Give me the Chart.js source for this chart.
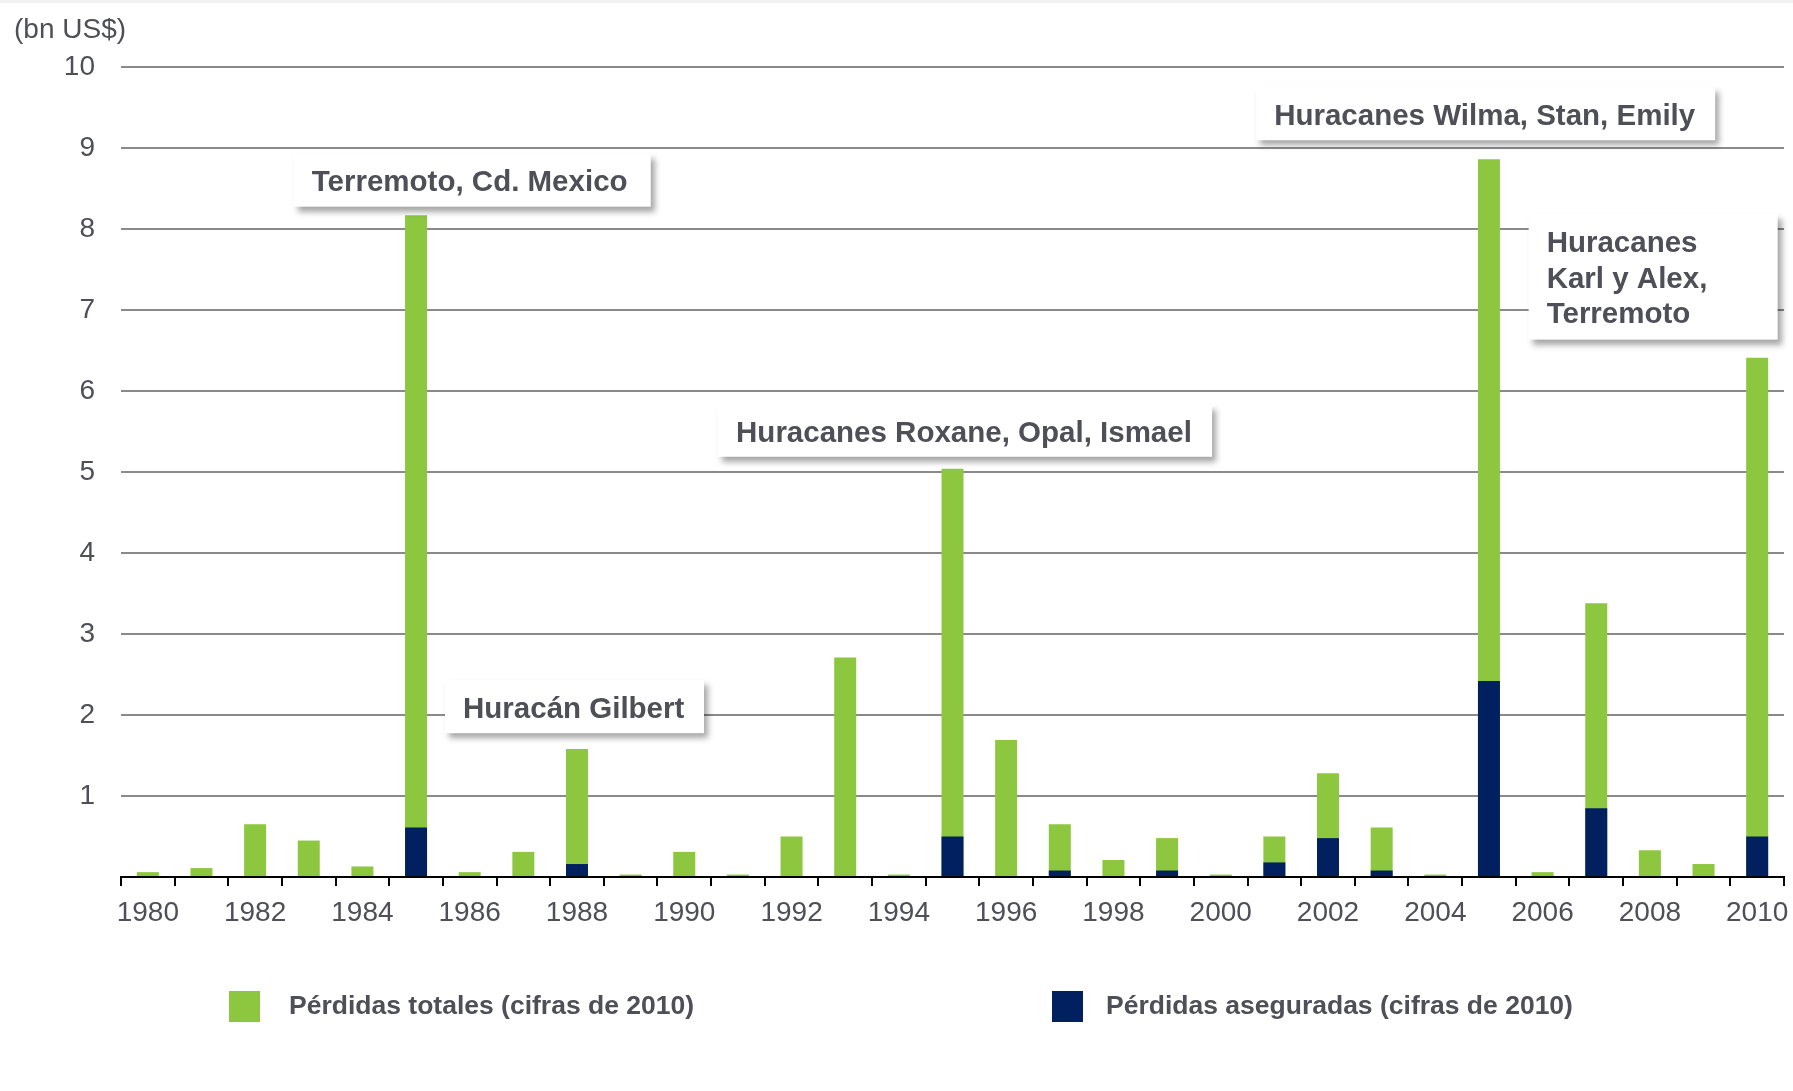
<!DOCTYPE html>
<html>
<head>
<meta charset="utf-8">
<script src="https://cdn.jsdelivr.net/npm/chart.js@4.4.1/dist/chart.umd.min.js"></script>
<style>
html, body { margin: 0; padding: 0; background: #fff; }
</style>
</head>
<body>
<canvas id="lossChart" width="1793" height="1091"></canvas>
<script>
// years on the x axis
let years = []
for (let y = 1980; y <= 2010; ++y) years.push(String(y))

// bn US$
let totalLosses = [0.06, 0.11, 0.65, 0.45, 0.13, 8.17, 0.06, 0.31, 1.58, 0.03,
	0.31, 0.03, 0.50, 2.71, 0.03, 5.04, 1.69, 0.65, 0.21, 0.48,
	0.03, 0.50, 1.28, 0.61, 0.03, 8.86, 0.06, 3.38, 0.33, 0.16, 6.41]
let insuredLosses = [0, 0, 0, 0, 0, 0.61, 0, 0, 0.16, 0,
	0, 0, 0, 0, 0, 0.50, 0, 0.08, 0, 0.08,
	0, 0.18, 0.48, 0.08, 0, 2.42, 0, 0.85, 0, 0, 0.50]

let seriesNames = ["Pérdidas totales (cifras de 2010)", "Pérdidas aseguradas (cifras de 2010)"]
let unitLabel = "(bn US$)"

// callout boxes: left edge as category index, top as axis value
let notes = [
	{lines: ["Terremoto, Cd. Mexico"], at: 2.72, top: 8.93, w: 357, h: 53},
	{lines: ["Huracán Gilbert"], at: 5.54, top: 2.43, w: 259, h: 53},
	{lines: ["Huracanes Roxane, Opal, Ismael"], at: 10.63, top: 5.83, w: 494, h: 52},
	{lines: ["Huracanes Wilma, Stan, Emily"], at: 20.66, top: 9.75, w: 459, h: 53},
	{lines: ["Huracanes", "Karl y Alex,", "Terremoto"], at: 25.74, top: 8.19, w: 249, h: 126},
]

const green = "#8dc63f"
const navy = "#002060"
const textColor = "#4e4f57"
const family = "'Liberation Sans', Arial, sans-serif"

Chart.defaults.font.family = family
Chart.defaults.color = textColor

const extras = {
	id: 'extras',
	beforeDraw(chart) {
		const ctx = chart.ctx
		ctx.save()
		ctx.fillStyle = "#f1f1f1"
		ctx.fillRect(0, 0, chart.width, 3)
		ctx.fillStyle = textColor
		ctx.font = "28px " + family
		ctx.textBaseline = 'middle'
		ctx.fillText(unitLabel, 14, 30)
		ctx.restore()
	},
	afterDatasetsDraw(chart) {
		const ctx = chart.ctx
		const xs = chart.scales.x, ys = chart.scales.y
		ctx.save()
		ctx.font = "bold 29.5px " + family
		ctx.textBaseline = 'middle'
		for (let n of notes) {
			let left = xs.getPixelForValue(n.at)
			let top = ys.getPixelForValue(n.top)
			ctx.save()
			ctx.shadowColor = "rgba(0,0,0,0.35)"
			ctx.shadowBlur = 6
			ctx.shadowOffsetX = 4
			ctx.shadowOffsetY = 5
			ctx.fillStyle = "#fff"
			ctx.fillRect(left, top, n.w, n.h)
			ctx.restore()
			ctx.fillStyle = textColor
			let lh = 35.5
			let y0 = top + n.h / 2 + 3 - (n.lines.length - 1) * lh / 2
			n.lines.forEach((t, i) => ctx.fillText(t, left + 18, y0 + i * lh))
		}
		ctx.restore()
	},
	afterDraw(chart) {
		const ctx = chart.ctx
		ctx.save()
		ctx.font = "bold 26.5px " + family
		ctx.textBaseline = 'middle'
		let boxes = [229, 1052]
		let texts = [289, 1106]
		chart.data.datasets.forEach((ds, i) => {
			ctx.fillStyle = ds.backgroundColor
			ctx.fillRect(boxes[i], 991, 31, 31)
			ctx.fillStyle = textColor
			ctx.fillText(ds.label, texts[i], 1007)
		})
		ctx.restore()
	}
}

new Chart(document.getElementById('lossChart'), {
	'type': 'bar',
	'data': {
		'labels': years,
		'datasets': [{
			'label': seriesNames[0],
			'data': totalLosses,
			'backgroundColor': green,
			'grouped': false,
			'order': 2,
			'barPercentage': 0.41,
			'categoryPercentage': 1
		}, {
			'label': seriesNames[1],
			'data': insuredLosses,
			'backgroundColor': navy,
			'grouped': false,
			'order': 1,
			'barPercentage': 0.41,
			'categoryPercentage': 1
		}]
	},
	'options': {
		'responsive': false,
		'animation': false,
		'devicePixelRatio': 1,
		'layout': {'padding': {'top': 67, 'right': 9, 'bottom': 154, 'left': 0}},
		'plugins': {
			'legend': {'display': false},
			'tooltip': {'enabled': false}
		},
		'scales': {
			'x': {
				'grid': {'offset': true, 'drawOnChartArea': false, 'drawTicks': true, 'tickLength': 9, 'color': "#000", 'lineWidth': 2},
				'border': {'color': "#000", 'width': 2},
				'ticks': {
					'autoSkip': false,
					'maxRotation': 0,
					'padding': 10,
					'font': {'size': 28},
					'color': textColor,
					'callback': (v, i) => i % 2 === 0 ? years[i] : ''
				},
				'afterFit': s => { s.height = 60; s.paddingLeft = 0; s.paddingRight = 0 }
			},
			'y': {
				'min': 0,
				'max': 10,
				'border': {'display': false},
				'grid': {
					'drawTicks': false,
					'lineWidth': 2,
					'color': c => c.tick && c.tick.value === 0 ? 'rgba(0,0,0,0)' : "#8a8a8a"
				},
				'ticks': {
					'stepSize': 1,
					'padding': 26,
					'font': {'size': 28},
					'color': textColor,
					'callback': v => v === 0 ? '' : v
				},
				'afterFit': s => { s.width = 121 }
			}
		}
	},
	'plugins': [extras]
});
</script>
</body>
</html>
